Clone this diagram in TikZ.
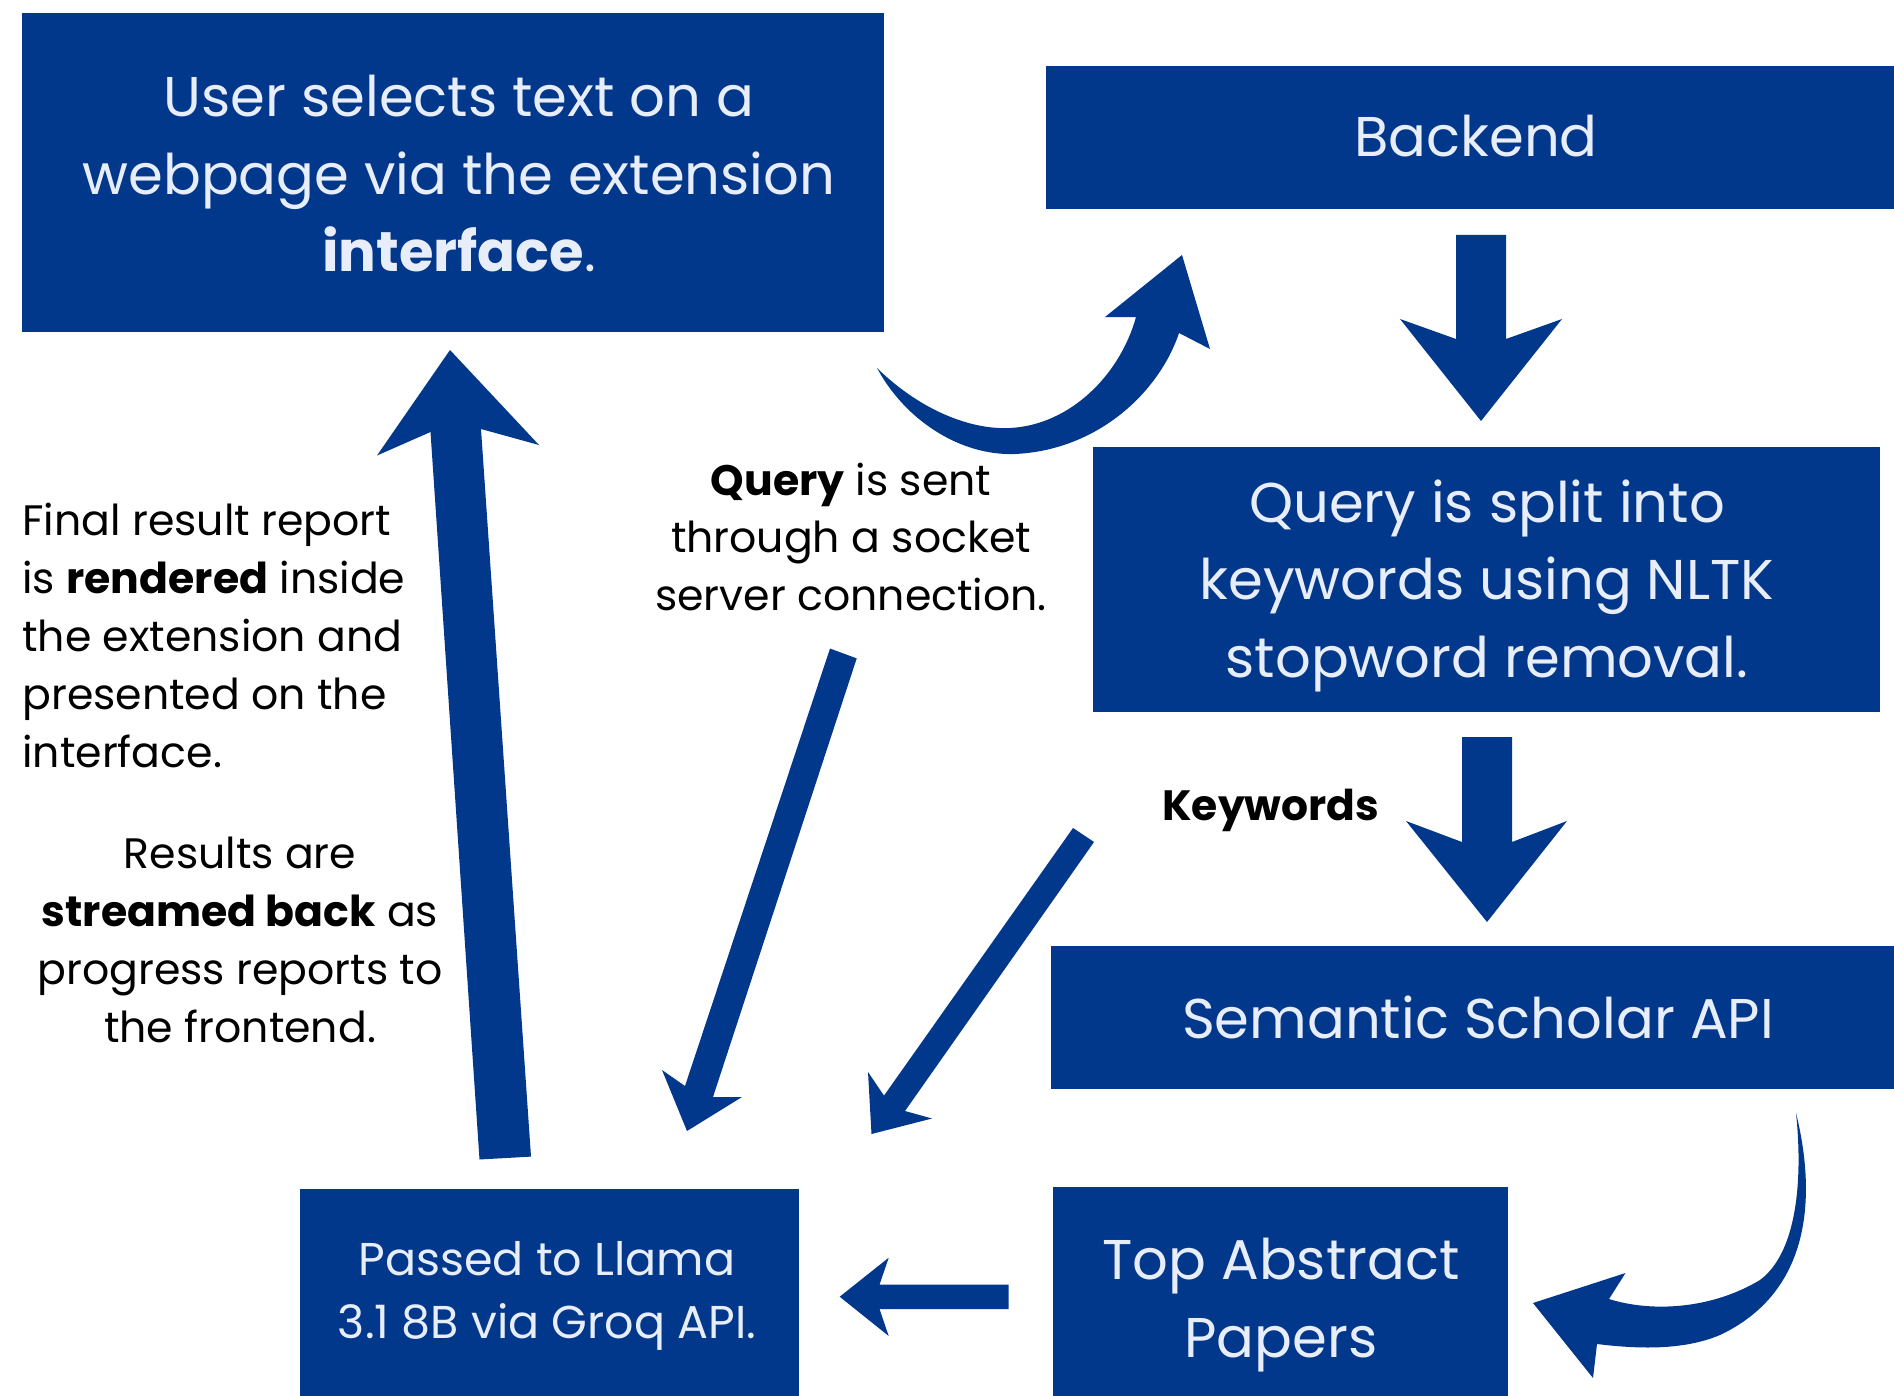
\documentclass[tikz,border=0pt]{standalone}
\usepackage{fontspec}
\setmainfont{Poppins}
\definecolor{navy}{RGB}{2,56,139}
\definecolor{boxtext}{RGB}{232,237,250}
\newcommand{\linesc}[1]{\begin{tabular}[t]{@{}c@{}}#1\end{tabular}}
\newcommand{\linesl}[1]{\begin{tabular}[t]{@{}l@{}}#1\end{tabular}}
\begin{document}
\begin{tikzpicture}[x=0.5pt,y=-0.5pt,
  box/.style={fill=navy,draw=none,inner sep=0pt,outer sep=0pt},
  boxtxt/.style={text=boxtext,inner sep=0pt,anchor=base,font=\fontsize{28}{38.75}\selectfont},
  smalltxt/.style={text=boxtext,inner sep=0pt,anchor=base,font=\fontsize{23}{31.5}\selectfont},
  note/.style={text=black,inner sep=0pt,font=\fontsize{21.3}{29}\selectfont},
  blockarrow/.style={fill=navy,draw=none}]
\useasboundingbox (0,0) rectangle (1894,1396);
\fill[white] (0,0) rectangle (1894,1396);

% boxes
\node[box,minimum width=431pt,minimum height=159.5pt] (user) at (453,172.5) {};
\node[box,minimum width=424pt,minimum height=71.5pt] (backend) at (1470,137.5) {};
\node[box,minimum width=393.5pt,minimum height=132.5pt] (split) at (1486.5,579.5) {};
\node[box,minimum width=421.5pt,minimum height=71.5pt] (scholar) at (1472.5,1017.5) {};
\node[box,minimum width=227.5pt,minimum height=104.5pt] (papers) at (1280.5,1291.5) {};
\node[box,minimum width=249.5pt,minimum height=103.5pt] (llama) at (549.5,1292.5) {};

% box texts
\node[boxtxt] (usertxt) at (459,117) {\linesc{User selects text on a\\webpage via the extension\\\textbf{interface}.}};
\node[boxtxt] (backendtxt) at (1476,157) {Backend};
\node[boxtxt] (splittxt) at (1487,522) {\linesc{Query is split into\\keywords using NLTK\\stopword removal.}};
\node[boxtxt] (scholartxt) at (1478,1038) {Semantic Scholar API};
\node[boxtxt,font=\fontsize{28}{39}\selectfont] (paperstxt) at (1281,1279) {\linesc{Top Abstract\\Papers}};
\node[smalltxt] (llamatxt) at (547,1275) {\linesc{Passed to Llama\\3.1 8B via Groq API.}};

% notes
\node[note,anchor=base west] (final) at (22,535) {\linesl{Final result report\\is \textbf{rendered} inside\\the extension and\\presented on the\\interface.}};
\node[note,anchor=base] (stream) at (240,868.5) {\linesc{Results are\\\textbf{streamed back} as\\progress reports to\\the frontend.}};
\node[note,anchor=base,font=\fontsize{21.3}{28.75}\selectfont] (query) at (851,495) {\linesc{\textbf{Query} is sent\\through a socket\\server connection.}};
\node[note,anchor=base west,font=\bfseries\fontsize{21.2}{29}\selectfont] (kw) at (1162,820) {Keywords};

% curved arrow user -> backend
\fill[blockarrow] (877,368) .. controls (920,410) and (970,430) .. (1010,428)
  .. controls (1070,425) and (1120,375) .. (1136,317)
  -- (1105,317) -- (1182,255) -- (1210,349) -- (1179,333)
  .. controls (1160,390) and (1100,450) .. (1015,454)
  .. controls (960,456) and (905,420) .. (877,368) -- cycle;

% backend -> split
\fill[blockarrow] (1456,235) -- (1506,235) -- (1506,339) -- (1562,319) -- (1481,421) -- (1400,319) -- (1456,339) -- cycle;

% split -> scholar
\fill[blockarrow] (1462,737) -- (1512,737) -- (1512,842) -- (1567,821) -- (1487,922) -- (1406,821) -- (1462,842) -- cycle;

% scholar -> papers (curved)
\fill[blockarrow] (1796,1113) .. controls (1815,1190) and (1815,1290) .. (1720,1335)
  .. controls (1680,1352) and (1630,1348) .. (1597,1344)
  -- (1593,1378) -- (1533,1303) -- (1625.5,1273) -- (1609,1299)
  .. controls (1650,1312) and (1710,1310) .. (1760,1280)
  .. controls (1800,1250) and (1802,1170) .. (1796,1113) -- cycle;

% papers -> llama
\fill[blockarrow] (1008.6,1284.7) -- (879.5,1284.7) -- (888.7,1257.7) -- (839.7,1296.7) -- (888.7,1336) -- (879.5,1309) -- (1008.6,1309) -- cycle;

% query arrow -> llama
\fill[blockarrow] (830,648.5) -- (856.7,658.4) -- (713,1097) -- (742,1097) -- (687,1131) -- (662,1070) -- (685,1086) -- cycle;

% keywords arrow -> llama
\fill[blockarrow] (1073,828) -- (1094,842) -- (905,1111) -- (932,1118.5) -- (871.5,1134) -- (868,1072) -- (884,1095.6) -- cycle;

% llama -> user (up)
\fill[blockarrow] (479.5,1159.5) -- (430.5,432) -- (377,455.5) -- (450,350) -- (539,445) -- (481,429) -- (531,1156.6) -- cycle;
\end{tikzpicture}
\end{document}
